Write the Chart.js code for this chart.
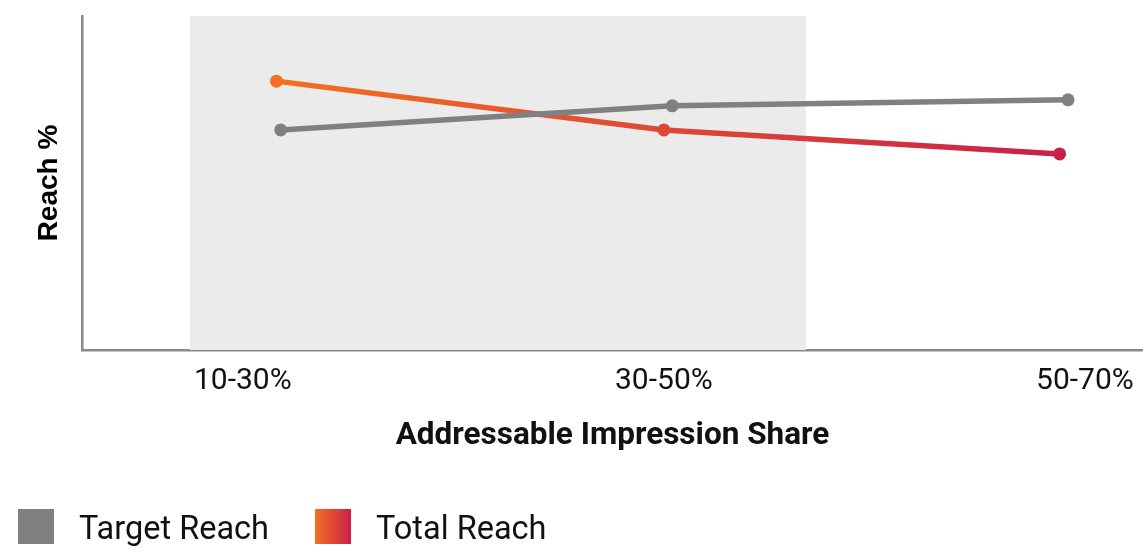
<!DOCTYPE html>
<html><head><meta charset="utf-8">
<script src="https://cdn.jsdelivr.net/npm/chart.js@4"></script>
<style>html,body{margin:0;padding:0;background:#fff;overflow:hidden}#wrap{width:1143px;height:552px}canvas{display:block}</style>
</head><body><div id="wrap"><canvas id="c" width="1143" height="552"></canvas></div>
<script>
// ---- data ----
const categories = ['10-30%', '30-50%', '50-70%'];
const categoryPositions = [0, 1, 2];
const targetReachX = [0.09, 1.02, 1.96];
const targetReach = [65.9, 73.1, 74.9];
const totalReachX = [0.08, 1.00, 1.94];
const totalReach = [80.5, 65.9, 58.7];
const seriesNames = ['Target Reach', 'Total Reach'];
const highlightRange = [-0.126, 1.337];
const xRange = [-0.382, 2.138];
const yRange = [0, 100];
const xTitle = 'Addressable Impression Share';
const yTitle = 'Reach %';

const GRAY = '#808080';
const ORANGE = '#F37021';
const RED = '#C8204A';
const AXIS = '#888888';

function lineGradient(context) {
  const chart = context.chart;
  const {ctx, chartArea, scales} = chart;
  if (!chartArea) return ORANGE;
  const x0 = scales.x.getPixelForValue(totalReachX[0]);
  const x1 = scales.x.getPixelForValue(totalReachX[totalReachX.length - 1]);
  const g = ctx.createLinearGradient(x0, 0, x1, 0);
  g.addColorStop(0, ORANGE);
  g.addColorStop(1, RED);
  return g;
}

const bandPlugin = {
  id: 'band',
  beforeDatasetsDraw(chart) {
    const {ctx, chartArea, scales} = chart;
    const x0 = scales.x.getPixelForValue(highlightRange[0]);
    const x1 = scales.x.getPixelForValue(highlightRange[1]);
    ctx.save();
    ctx.fillStyle = '#EBEBEB';
    ctx.fillRect(x0, chartArea.top, x1 - x0, chartArea.bottom - chartArea.top);
    ctx.restore();
  }
};

// custom legend drawn on the canvas below the chart
const legendPlugin = {
  id: 'customLegend',
  afterDraw(chart) {
    const ctx = chart.ctx;
    const box = 36, boxH = 35, top = 509, gapText = 25, gapItem = 46;
    let x = 18;
    ctx.save();
    ctx.font = '32.5px Roboto';
    ctx.textBaseline = 'middle';
    ctx.textAlign = 'left';
    chart.data.datasets.forEach((ds, i) => {
      if (i === 1) {
        const g = ctx.createLinearGradient(x, 0, x + box, 0);
        g.addColorStop(0, ORANGE); g.addColorStop(1, RED);
        ctx.fillStyle = g;
      } else ctx.fillStyle = GRAY;
      ctx.fillRect(x, top, box, boxH);
      x += box + gapText;
      ctx.fillStyle = '#111';
      ctx.fillText(ds.label, x, top + boxH / 2 + 4);
      x += ctx.measureText(ds.label).width + gapItem;
    });
    ctx.restore();
  }
};

new Chart(document.getElementById('c'), {
  type: 'line',
  data: {
    datasets: [
      {
        label: seriesNames[0],
        data: targetReachX.map((x, i) => ({x, y: targetReach[i]})),
        borderColor: GRAY, backgroundColor: GRAY,
        pointBackgroundColor: GRAY, pointBorderColor: GRAY,
        borderWidth: 5.5, pointRadius: 6.5, pointBorderWidth: 0, tension: 0
      },
      {
        label: seriesNames[1],
        data: totalReachX.map((x, i) => ({x, y: totalReach[i]})),
        borderColor: lineGradient, backgroundColor: lineGradient,
        pointBackgroundColor: lineGradient, pointBorderColor: lineGradient,
        borderWidth: 5.5, pointRadius: 6.5, pointBorderWidth: 0, tension: 0
      }
    ]
  },
  options: {
    responsive: false,
    animation: false,
    events: [],
    layout: {autoPadding: false, padding: {top: 16, right: 0, bottom: 52, left: 0}},
    scales: {
      x: {
        type: 'linear',
        min: xRange[0], max: xRange[1],
        grid: {display: false},
        border: {display: true, color: AXIS, width: 2.5},
        afterBuildTicks(scale) { scale.ticks = categoryPositions.map(v => ({value: v})); },
        afterFit(scale) {
          scale.height = 150;
          scale.paddingLeft = 0; scale.paddingRight = 0;
        },
        ticks: {
          color: '#111', padding: 5, maxRotation: 0,
          font: {family: 'Roboto', size: 30},
          callback: (v) => categories[categoryPositions.indexOf(v)] ?? ''
        },
        title: {
          display: true, text: xTitle, color: '#111',
          font: {family: 'Roboto', size: 31.5, weight: 'bold'},
          padding: {top: 0, bottom: 45}
        }
      },
      y: {
        min: yRange[0], max: yRange[1],
        grid: {display: false},
        border: {display: true, color: AXIS, width: 2.5},
        ticks: {display: false},
        afterFit(scale) { scale.width = 82; },
        title: {
          display: true, text: yTitle, color: '#000',
          font: {family: 'Liberation Sans', size: 28, weight: 'bold'},
          padding: {top: 32, bottom: 0}
        }
      }
    },
    plugins: {
      tooltip: {enabled: false},
      legend: {display: false}
    }
  },
  plugins: [bandPlugin, legendPlugin]
});
</script></body></html>
